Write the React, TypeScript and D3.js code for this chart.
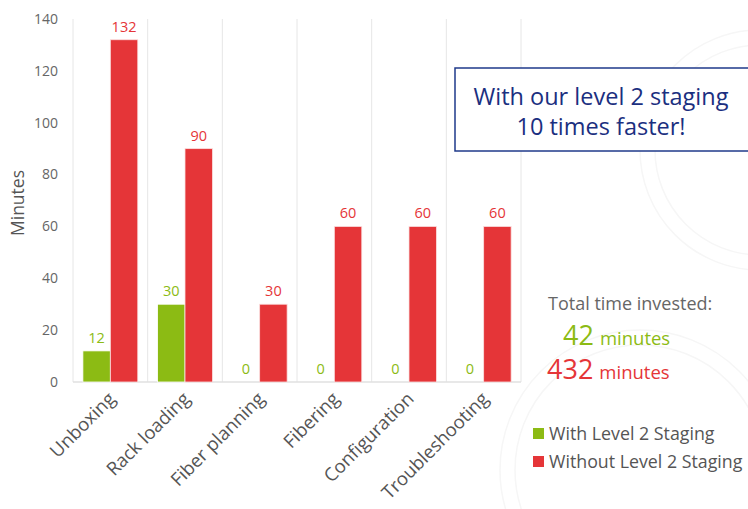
import React from "react";
import * as d3 from "d3";

const categories = ["Unboxing", "Rack loading", "Fiber planning", "Fibering", "Configuration", "Troubleshooting"];
const withStaging = [12, 30, 0, 0, 0, 0];
const withoutStaging = [132, 90, 30, 60, 60, 60];
const yTicks = [0, 20, 40, 60, 80, 100, 120, 140];
const seriesNames = ["With Level 2 Staging", "Without Level 2 Staging"];
const totals = [42, 432];

const GREEN = "#8cbb14";
const RED = "#e53538";
const FONT = "'Open Sans', 'Noto Sans', sans-serif";

export default function App() {
  const W = 748, H = 509;
  const left = 73, right = 521, top = 19, bottom = 382;
  const x = d3.scaleBand<string>().domain(categories).range([left, right]).padding(0);
  const inner = d3.scaleBand<string>().domain(["a", "b"]).range([0, x.bandwidth()]).paddingOuter(0.36).paddingInner(0);
  const y = d3.scaleLinear().domain([0, 140]).range([bottom, top]);

  return (
    <svg width={W} height={H} style={{ position: "absolute", left: 0, top: 0, fontFamily: FONT }}>
      <rect width={W} height={H} fill="#fff" />
      {/* faint watermark */}
      <g fill="none" stroke="#f6f6f6" strokeWidth={1.5}>
        <circle cx={760} cy={150} r={120} />
        <circle cx={760} cy={150} r={105} />
        <circle cx={640} cy={470} r={140} />
        <circle cx={640} cy={470} r={125} />
      </g>
      {/* vertical grid lines */}
      {d3.range(categories.length + 1).map(i => {
        const xx = left + i * x.bandwidth();
        return <line key={i} x1={xx} x2={xx} y1={top} y2={bottom} stroke="#e6e6e6" strokeWidth={1} />;
      })}
      <line x1={left} x2={right} y1={bottom} y2={bottom} stroke="#e0e0e0" strokeWidth={1.5} />
      {/* y ticks */}
      {yTicks.map(t => (
        <text key={t} x={58} y={y(t)} dy="0.35em" textAnchor="end" fontSize={14} fill="#666">{t}</text>
      ))}
      <text transform={`translate(24,${203}) rotate(-90)`} textAnchor="middle" fontSize={17.5} fill="#555">Minutes</text>
      {/* bars */}
      {categories.map((c, i) => {
        const x0 = x(c)!;
        const gx = x0 + inner("a")!;
        const rx = x0 + inner("b")!;
        const bw = inner.bandwidth();
        return (
          <g key={c}>
            {withStaging[i] > 0 && (
              <rect x={gx} y={y(withStaging[i])} width={bw} height={bottom - y(withStaging[i])} fill={GREEN} stroke="#fff" strokeWidth={0.8} />
            )}
            <rect x={rx} y={y(withoutStaging[i])} width={bw} height={bottom - y(withoutStaging[i])} fill={RED} stroke="#fbe0e0" strokeWidth={0.8} />
            <text x={gx + bw / 2} y={y(withStaging[i]) - 8} textAnchor="middle" fontSize={14.5} fill={GREEN}>{withStaging[i]}</text>
            <text x={rx + bw / 2} y={y(withoutStaging[i]) - 8} textAnchor="middle" fontSize={14.5} fill={RED}>{withoutStaging[i]}</text>
            <text transform={`translate(${x0 + x.bandwidth() / 2 + 6},${400}) rotate(-45)`} textAnchor="end" fontSize={18.5} fill="#555">{c}</text>
          </g>
        );
      })}
      {/* callout box */}
      <rect x={455} y={68} width={300} height={83} fill="#fff" stroke="#1f3a8a" strokeWidth={1.5} />
      <text x={601} y={105} textAnchor="middle" fontSize={23.5} fill="#1b2f80">With our level 2 staging</text>
      <text x={601} y={135} textAnchor="middle" fontSize={23.5} fill="#1b2f80">10 times faster!</text>
      {/* totals */}
      <text x={548} y={310} fontSize={18} fill="#666">Total time invested:</text>
      <text x={563} y={345} fill={GREEN}><tspan fontSize={27}>{totals[0]}</tspan><tspan fontSize={18.5} dx={6}>minutes</tspan></text>
      <text x={547} y={379} fill={RED}><tspan fontSize={27}>{totals[1]}</tspan><tspan fontSize={18.5} dx={6}>minutes</tspan></text>
      {/* legend */}
      {seriesNames.map((s, i) => (
        <g key={s} transform={`translate(533,${428 + i * 28})`}>
          <rect x={0} y={0} width={11} height={11} fill={i === 0 ? GREEN : RED} />
          <text x={16} y={12} fontSize={17.8} fill="#555">{s}</text>
        </g>
      ))}
    </svg>
  );
}
